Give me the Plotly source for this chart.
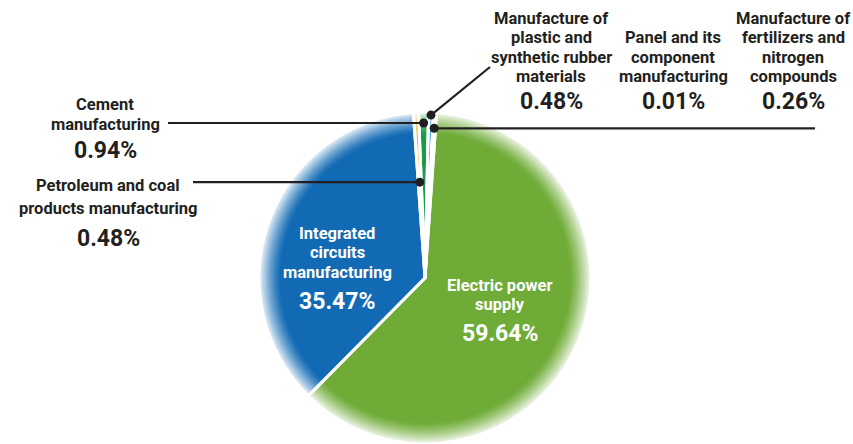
import math
import plotly.graph_objects as go

# ---- data -------------------------------------------------------------
sectors = [
    "Electric power supply",
    "Integrated circuits manufacturing",
    "Petroleum and coal products manufacturing",
    "Cement manufacturing",
    "Manufacture of plastic and synthetic rubber materials",
    "Panel and its component manufacturing",
    "Manufacture of fertilizers and nitrogen compounds",
]
shares = [59.64, 35.47, 0.48, 0.94, 0.48, 0.01, 0.26]
slice_colors = ["#6fab37", "#126ab4", "#f6b633", "#1c9a4b", "#3ba4df", "#8cc4ea", "#f4a83a"]

# wrapped label text for each sector
label_lines = [
    ["Electric power", "supply"],
    ["Integrated", "circuits", "manufacturing"],
    ["Petroleum and coal", "products manufacturing"],
    ["Cement", "manufacturing"],
    ["Manufacture of", "plastic and", "synthetic rubber", "materials"],
    ["Panel and its", "component", "manufacturing"],
    ["Manufacture of", "fertilizers and", "nitrogen", "compounds"],
]

# ---- layout constants ---------------------------------------------------
W, H = 853, 444
CX, CY, R = 425, 278, 165       # pie centre / outer radius in px
ROT = 4                          # first slice starts just right of 12 o'clock
FONT = "Roboto, Liberation Sans, sans-serif"
INK = "#231f20"

fig = go.Figure()


def blend(hex_color, t):
    """Mix a colour with white; t=0 keeps it, t=1 gives white."""
    r, g, b = (int(hex_color[i:i + 2], 16) for i in (1, 3, 5))
    mix = lambda c: round(c + (255 - c) * t)
    return f"rgb({mix(r)},{mix(g)},{mix(b)})"


def pie_domain(r):
    return dict(x=[max(0, (CX - r) / W), min(1, (CX + r) / W)],
                y=[max(0, (H - CY - r) / H), min(1, (H - CY + r) / H)])


# stacked pies of shrinking radius give the soft, faded rim
n_layers = 14
fade = 20
for k in range(n_layers):
    f = k / (n_layers - 1)
    r = R - fade * f
    t = 0.85 * (1 - f) ** 1.3
    fig.add_trace(go.Pie(
        values=shares, labels=sectors, sort=False,
        direction="clockwise", rotation=ROT,
        textinfo="none", hoverinfo="skip" if k < n_layers - 1 else "label+value",
        marker=dict(colors=[blend(c, t) for c in slice_colors], line=dict(width=0)),
        domain=pie_domain(r), showlegend=False,
    ))

# white separators between the slices
fig.add_trace(go.Pie(
    values=shares, labels=sectors, sort=False,
    direction="clockwise", rotation=ROT,
    textinfo="none", hoverinfo="skip",
    marker=dict(colors=["rgba(0,0,0,0)"] * len(shares),
                line=dict(color="white", width=3)),
    domain=pie_domain(R + 1), showlegend=False,
))

# mid-angle of every slice (degrees clockwise from 12 o'clock)
total = sum(shares)
mid_angles = []
acc = 0.0
for v in shares:
    mid_angles.append(ROT + 360 * (acc + v / 2) / total)
    acc += v


def on_slice(i, radius):
    a = math.radians(mid_angles[i])
    return CX + radius * math.sin(a), CY - radius * math.cos(a)


shapes = []
annotations = []


def dot(x, y):
    shapes.append(dict(type="circle", xref="x", yref="y", layer="above",
                       x0=x - 4.5, x1=x + 4.5, y0=y - 4.5, y1=y + 4.5,
                       fillcolor=INK, line=dict(width=0)))


def leader(x0, y0, x1, y1):
    shapes.append(dict(type="line", xref="x", yref="y", layer="above",
                       x0=x0, y0=y0, x1=x1, y1=y1,
                       line=dict(color=INK, width=2.2)))


def text_block(i, cx, ys, pct_y, color, size=16.5, pct_size=23):
    for line, y in zip(label_lines[i], ys):
        annotations.append(dict(x=cx, y=y, xref="x", yref="y", text=f"<b>{line}</b>",
                                showarrow=False, xanchor="center", yanchor="middle",
                                font=dict(family=FONT, size=size, color=color)))
    annotations.append(dict(x=cx, y=pct_y, xref="x", yref="y",
                            text=f"<b>{shares[i]:.2f}%</b>",
                            showarrow=False, xanchor="center", yanchor="middle",
                            font=dict(family=FONT, size=pct_size, color=color)))


# labels inside the two large slices
text_block(0, 500, [285, 304], 333, "white")
text_block(1, 337, [233, 252, 272], 301, "white")

# outside labels
text_block(2, 108, [185, 208], 238, INK)
text_block(3, 105, [104, 124], 150, INK)
text_block(4, 551, [18, 37, 57, 76], 101, INK)
text_block(5, 673, [37, 57, 76], 101, INK)
text_block(6, 793, [18, 37, 57, 76], 101, INK)

# leader lines with dots placed on their slices
px, py = on_slice(2, 96)
leader(193, py, px, py)
dot(px, py)

cx_, cy_ = on_slice(3, 155)
leader(168, cy_, cx_, cy_)
dot(cx_, cy_)

fx, fy = on_slice(6, 150)
leader(fx, fy, 815, fy)
dot(fx, fy)

qx, qy = on_slice(4, 163)
leader(qx, qy, 490, 67)
dot(qx, qy)

fig.update_layout(
    width=W, height=H,
    margin=dict(l=0, r=0, t=0, b=0),
    paper_bgcolor="white", plot_bgcolor="rgba(0,0,0,0)",
    xaxis=dict(range=[0, W], visible=False, fixedrange=True),
    yaxis=dict(range=[H, 0], visible=False, fixedrange=True),
    shapes=shapes,
    annotations=annotations,
    showlegend=False,
)

fig.write_html("out.html")
